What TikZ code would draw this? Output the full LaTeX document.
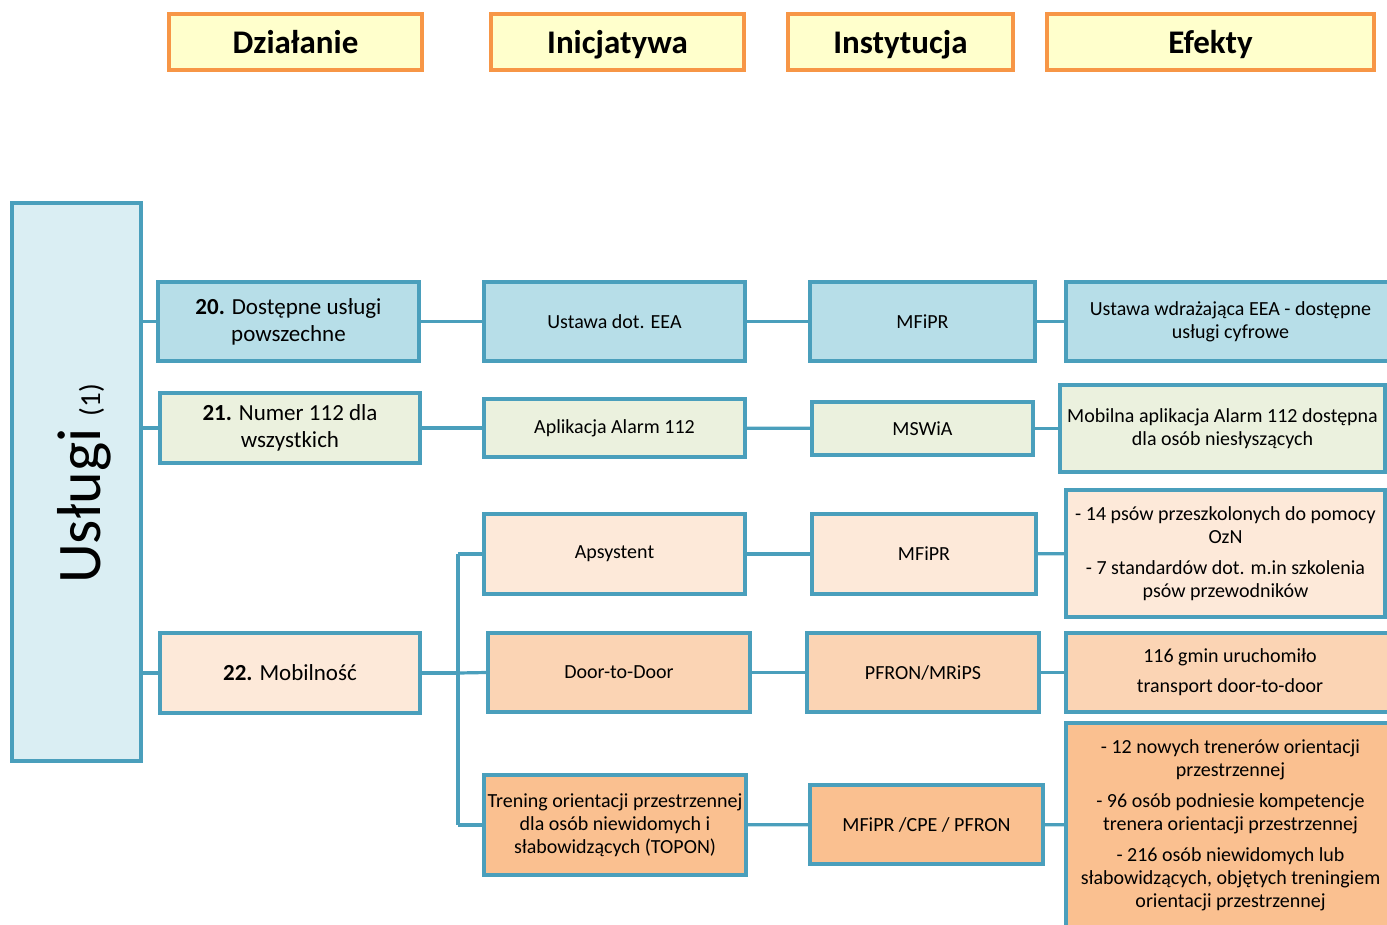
\documentclass[tikz,border=0pt]{standalone}
\usepackage{fontspec}
\setmainfont{Carlito}
\definecolor{edge}{HTML}{4A9FBC}
\definecolor{hdrfill}{HTML}{FFFFCC}
\definecolor{hdredge}{HTML}{F79646}
\definecolor{lfill}{HTML}{DAEEF3}
\definecolor{bluefill}{HTML}{B7DEE8}
\definecolor{greenfill}{HTML}{EBF1DE}
\definecolor{peach1}{HTML}{FDE9D9}
\definecolor{peach2}{HTML}{FBD4B4}
\definecolor{peach3}{HTML}{FAC090}
\tikzset{
  hdr/.style={draw=hdredge, fill=hdrfill, line width=3.5pt, minimum height=56pt, inner sep=0pt,
    text height=22pt, text depth=0pt,
    font=\fontsize{33}{38}\selectfont\bfseries},
  box/.style={draw=edge, line width=3.2pt, align=center, inner sep=0pt},
  big/.style={font=\fontsize{23}{27}\selectfont},
  small/.style={font=\fontsize{20}{23}\selectfont},
  conn/.style={draw=edge, line width=3.2pt},
}
\begin{document}
\begin{tikzpicture}[x=1pt,y=-1pt]
\useasboundingbox (0,0) rectangle (1387,924);
% headers
\node[hdr, minimum width=253pt] (h1) at (295.5,42) {Działanie};
\node[hdr, minimum width=253pt] (h2) at (617.5,42) {Inicjatywa};
\node[hdr, minimum width=225pt] (h3) at (900.5,42) {Instytucja};
\node[hdr, minimum width=327pt] (h4) at (1210.5,42) {Efekty};
% left tall box
\node[box, fill=lfill, minimum width=129pt, minimum height=558pt] (L) at (76.5,482) {};
\node[rotate=90, anchor=base, inner sep=0pt] (Lt) at (100,484) {\fontsize{62}{62}\selectfont Usługi\hspace{12pt}{\fontsize{29}{29}\selectfont(1)}};
% row 20
\node[box, big, fill=bluefill, minimum width=261pt, minimum height=79pt] (a20) at (288.5,321.5) {\textbf{20.} Dostępne usługi\\powszechne};
\node[box, small, fill=bluefill, minimum width=261pt, minimum height=79pt] (b20) at (614.5,321.5) {Ustawa dot. EEA};
\node[box, small, fill=bluefill, minimum width=225pt, minimum height=79pt] (c20) at (922.5,321.5) {MFiPR};
\node[box, small, fill=bluefill, minimum width=329pt, minimum height=79pt] (d20) at (1230.5,321.5) {Ustawa wdrażająca EEA - dostępne\\usługi cyfrowe};
% row 21
\node[box, big, fill=greenfill, minimum width=260pt, minimum height=70pt] (a21) at (290,428) {\textbf{21.} Numer 112 dla\\wszystkich};
\node[box, small, fill=greenfill, minimum width=261pt, minimum height=58pt] (b21) at (614.5,428) {Aplikacja Alarm 112};
\node[box, small, fill=greenfill, minimum width=221pt, minimum height=53pt] (c21) at (922.5,428.5) {MSWiA};
\node[box, small, fill=greenfill, minimum width=325pt, minimum height=87pt] (d21) at (1222.5,428.5) {Mobilna aplikacja Alarm 112 dostępna\\dla osób niesłyszących};
% row 22
\node[box, big, fill=peach1, minimum width=260pt, minimum height=80pt] (a22) at (290,673) {\textbf{22.} Mobilność};
\node[box, small, fill=peach1, minimum width=261pt, minimum height=80pt] (b22a) at (614.5,554) {Apsystent};
\node[box, small, fill=peach1, minimum width=224pt, minimum height=80pt] (c22a) at (924,554) {MFiPR};
\node[box, small, fill=peach1, minimum width=319pt, minimum height=127pt] (d22a) at (1225.5,553.5) {- 14 psów przeszkolonych do pomocy\\OzN\\[8pt]- 7 standardów dot. m.in szkolenia\\psów przewodników};
\node[box, small, fill=peach2, minimum width=262pt, minimum height=79pt] (b22b) at (619,672.5) {Door-to-Door};
\node[box, small, fill=peach2, minimum width=232pt, minimum height=79pt] (c22b) at (923,672.5) {PFRON/MRiPS};
\node[box, small, fill=peach2, minimum width=328pt, minimum height=79pt] (d22b) at (1230,672.5) {116 gmin uruchomiło\\[7pt]transport door-to-door};
\node[box, small, fill=peach3, minimum width=262pt, minimum height=100pt] (b22c) at (615,825) {Trening orientacji przestrzennej\\dla osób niewidomych i\\słabowidzących (TOPON)};
\node[box, small, fill=peach3, minimum width=233pt, minimum height=79pt] (c22c) at (926.5,824.5) {MFiPR /CPE / PFRON};
\node[box, small, fill=peach3, minimum width=329pt, minimum height=204pt] (d22c) at (1230.5,825) {- 12 nowych trenerów orientacji\\przestrzennej\\[8pt]- 96 osób podniesie kompetencje\\trenera orientacji przestrzennej\\[8pt]- 216 osób niewidomych lub\\słabowidzących, objętych treningiem\\orientacji przestrzennej};
% connectors
\coordinate (J) at (458,673);
\coordinate (Jt) at (458,554);
\coordinate (Jb) at (458,825);
\draw[conn] (L.east |- a20) -- (a20.west);
\draw[conn] (L.east |- a21) -- (a21.west);
\draw[conn] (L.east |- a22) -- (a22.west);
\draw[conn] (a20) -- (b20); \draw[conn] (b20) -- (c20); \draw[conn] (c20) -- (d20);
\draw[conn] (a21) -- (b21); \draw[conn] (b21) -- (c21); \draw[conn] (c21) -- (d21);
\draw[conn, line width=4.5pt] (a22.east) -- (J);
\draw[conn] (Jt) -- (Jb);
\draw[conn] (Jt) -- (b22a.west);
\draw[conn] (J) -- (b22b.west);
\draw[conn] (Jb) -- (b22c.west);
\draw[conn] (b22a) -- (c22a); \draw[conn] (c22a) -- (d22a);
\draw[conn] (b22b) -- (c22b); \draw[conn] (c22b) -- (d22b);
\draw[conn] (b22c) -- (c22c); \draw[conn] (c22c) -- (d22c);
\end{tikzpicture}
\end{document}
